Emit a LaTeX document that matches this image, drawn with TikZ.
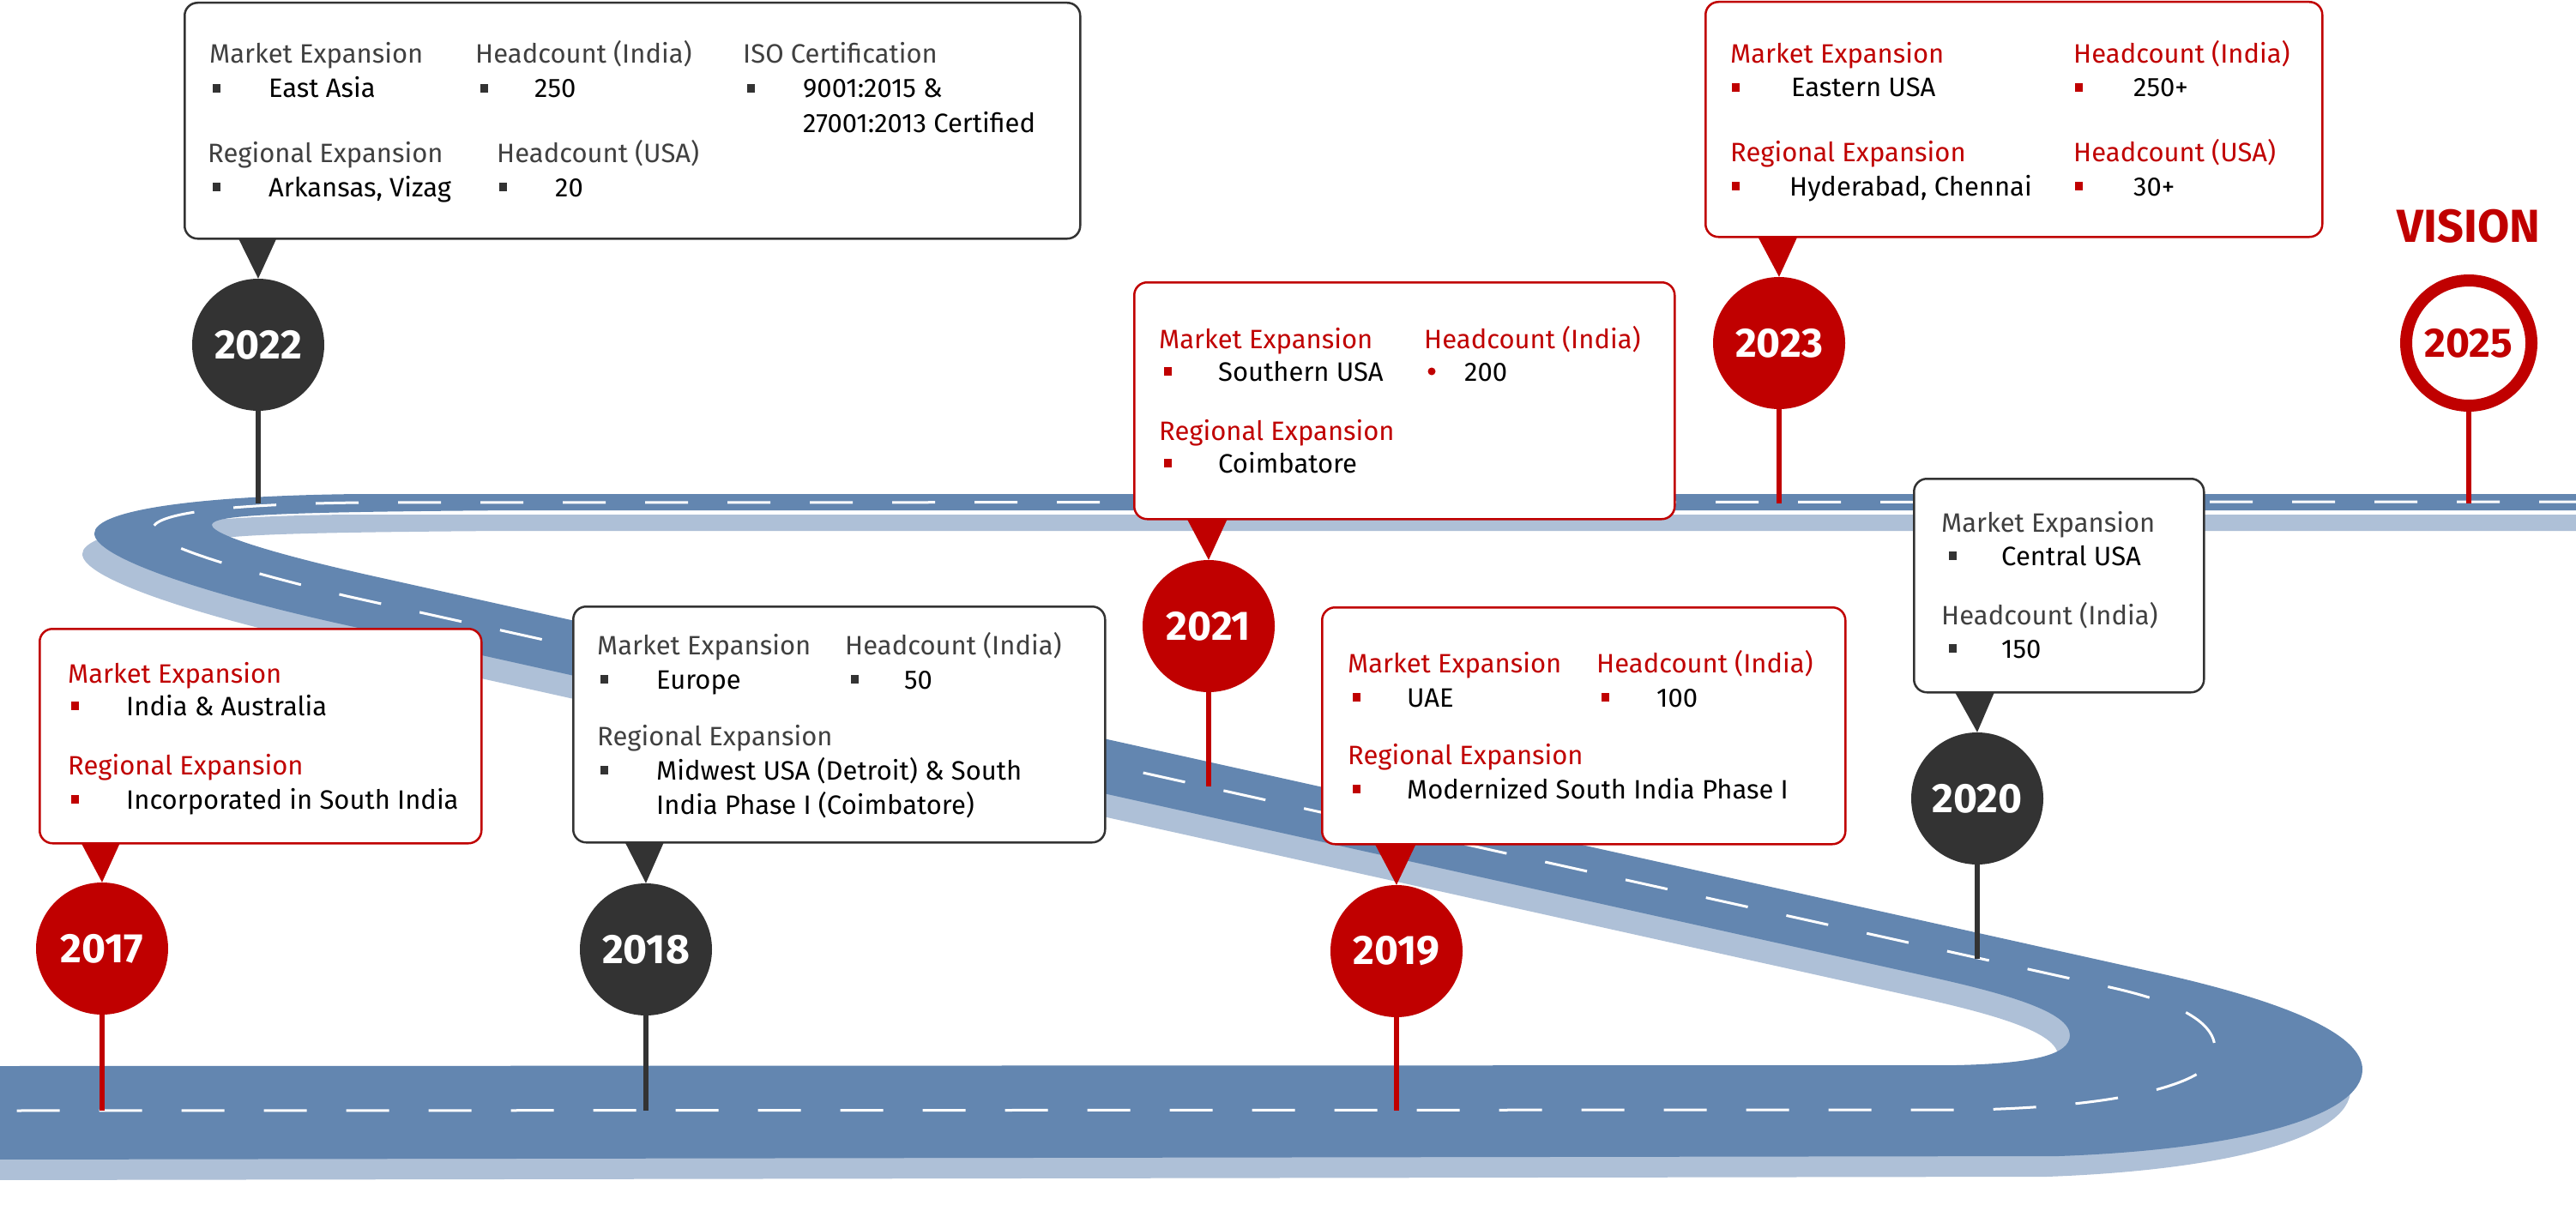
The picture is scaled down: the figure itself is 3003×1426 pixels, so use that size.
\documentclass[tikz,border=0pt]{standalone}
\usepackage{fontspec}
\setmainfont{Fira Sans}
\definecolor{myred}{RGB}{192,0,0}
\definecolor{mydark}{RGB}{51,51,51}
\definecolor{mygray}{RGB}{64,64,64}
\definecolor{roadblue}{RGB}{99,134,176}
\definecolor{roadlight}{RGB}{174,192,215}
\begin{document}
\begin{tikzpicture}[x=1pt,y=-1pt,
  txt/.style={anchor=base west,inner sep=0pt,font=\fontsize{31}{37}\selectfont},
  hdr/.style={txt,text=myred},
  hdd/.style={txt,text=mygray},
  itm/.style={txt,text=black},
  br/.style={rectangle,fill=myred,minimum width=9pt,minimum height=10pt,inner sep=0pt},
  bd/.style={rectangle,fill=mydark,minimum width=9pt,minimum height=10pt,inner sep=0pt},
  bdot/.style={circle,fill=myred,minimum size=9pt,inner sep=0pt},
  boxbase/.style={rectangle,rounded corners=15pt,line width=2.5pt,fill=white,anchor=north west,inner sep=0pt},
  boxr/.style={boxbase,draw=myred},
  boxd/.style={boxbase,draw=mydark},
  yearr/.style={circle,minimum size=154pt,inner sep=0pt,fill=myred,text=white,font=\bfseries\fontsize{48}{52}\selectfont},
  yeard/.style={yearr,fill=mydark},
  stemr/.style={draw=myred,line width=5.5pt},
  stemd/.style={draw=mydark,line width=5.5pt}]
\useasboundingbox (0,0) rectangle (3003,1426);
\clip (0,0) rectangle (3003,1426);
\fill[white] (0,0) rectangle (3003,1426);

% road (shadow then surface)
\foreach \dx/\dy/\col in {-14/24/roadlight,0/0/roadblue}{
\fill[\col,shift={(\dx,\dy)}] (3040,576) -- (420,576) .. controls (220,578) and (110,596) .. (110,622)
  .. controls (110,650) and (240,693) .. (404,729) -- (2250,1139)
  .. controls (2340,1159) and (2413,1180) .. (2413,1207)
  .. controls (2413,1230) and (2370,1240) .. (2280,1242) -- (-10,1243) -- (-10,1352) -- (2400,1348)
  .. controls (2620,1340) and (2754,1300) .. (2754,1247)
  .. controls (2754,1215) and (2700,1176) .. (2518,1135) -- (450,675)
  .. controls (340,651) and (247,625) .. (247,612)
  .. controls (247,600) and (330,597) .. (600,595) -- (3040,595) -- cycle;
}
\draw[white,line width=3pt,dash pattern=on 50pt off 46pt] (3010,585) -- (420,586)
  .. controls (250,588) and (178,600) .. (178,617)
  .. controls (178,635) and (280,665) .. (404,695) -- (2450,1149)
  .. controls (2560,1172) and (2585,1200) .. (2582,1228)
  .. controls (2578,1262) and (2480,1290) .. (2300,1294) -- (-10,1295);

% stem end points on the road
\coordinate (s17) at (119,1295);
\coordinate (s18) at (753,1295);
\coordinate (s19) at (1628,1295);
\coordinate (s20) at (2305,1118);
\coordinate (s21) at (1409,917);
\coordinate (s22) at (301,587);
\coordinate (s23) at (2074,587);
\coordinate (s25) at (2878,587);

% year circles
\node[yearr] (c17) at (119,1106) {2017};
\node[yeard] (c18) at (753,1107) {2018};
\node[yearr] (c19) at (1628,1109) {2019};
\node[yeard] (c20) at (2305,931) {2020};
\node[yearr] (c21) at (1409,730) {2021};
\node[yeard] (c22) at (301,402) {2022};
\node[yearr] (c23) at (2074,400) {2023};
\node[circle,draw=myred,line width=14pt,fill=white,minimum size=146pt,inner sep=0pt,text=myred,font=\bfseries\fontsize{48}{52}\selectfont] (c25) at (2878,400) {2025};
\node[anchor=base,inner sep=0pt,text=myred,font=\bfseries\fontsize{54}{60}\selectfont] (vision) at (2878,282) {VISION};

% stems
\draw[stemr] (c17.south) -- (s17);
\draw[stemd] (c18.south) -- (s18);
\draw[stemr] (c19.south) -- (s19);
\draw[stemd] (c20.south) -- (s20);
\draw[stemr] (c21.south) -- (s21);
\draw[stemd] (c22.south) -- (s22);
\draw[stemr] (c23.south) -- (s23);
\draw[stemr] (c25.south) -- (s25);

% pointers
\fill[mydark] (274,270) -- (326,270) -- (c22.north) -- cycle;
\fill[myred] (2045,268) -- (2099,268) -- (c23.north) -- cycle;
\fill[myred] (1380,598) -- (1434,598) -- (c21.north) -- cycle;
\fill[myred] (91,976) -- (143,976) -- (c17.north) -- cycle;
\fill[mydark] (725,975) -- (777,975) -- (c18.north) -- cycle;
\fill[myred] (1599,977) -- (1654,977) -- (c19.north) -- cycle;
\fill[mydark] (2275,800) -- (2328,800) -- (c20.north) -- cycle;

% boxes
\node[boxd,minimum width=1044pt,minimum height=275pt] (b22) at (214,2) {};
\node[boxr,minimum width=719pt,minimum height=274pt] (b23) at (1987,1) {};
\node[boxr,minimum width=630pt,minimum height=276pt] (b21) at (1321,328) {};
\node[boxr,minimum width=515pt,minimum height=250pt] (b17) at (45,732) {};
\node[boxd,minimum width=620pt,minimum height=275pt] (b18) at (667,706) {};
\node[boxr,minimum width=610pt,minimum height=276pt] (b19) at (1540,707) {};
\node[boxd,minimum width=338pt,minimum height=249pt] (b20) at (2230,557) {};

% 2022 box text
\node[hdd] (a1) at (244,74) {Market Expansion};
\node[bd] (a2) at (252,103) {};
\node[itm] (a3) at (313,114) {East Asia};
\node[hdd] (a4) at (554,74) {Headcount (India)};
\node[bd] (a5) at (564,103) {};
\node[itm] (a6) at (623,114) {250};
\node[hdd] (a7) at (866,74) {ISO Certification};
\node[bd] (a8) at (875,103) {};
\node[itm] (a9) at (936,114) {9001:2015 \&};
\node[itm] (a10) at (936,154) {27001:2013 Certified};
\node[hdd] (a11) at (242,189) {Regional Expansion};
\node[bd] (a12) at (252,218) {};
\node[itm] (a13) at (313,229) {Arkansas, Vizag};
\node[hdd] (a14) at (579,189) {Headcount (USA)};
\node[bd] (a15) at (586,218) {};
\node[itm] (a16) at (647,229) {20};

% 2023 box text
\node[hdr] (d1) at (2017,74) {Market Expansion};
\node[br] (d2) at (2023,102) {};
\node[itm] (d3) at (2088,113) {Eastern USA};
\node[hdr] (d4) at (2417,74) {Headcount (India)};
\node[br] (d5) at (2423,102) {};
\node[itm] (d6) at (2487,113) {250+};
\node[hdr] (d7) at (2017,188) {Regional Expansion};
\node[br] (d8) at (2023,217) {};
\node[itm] (d9) at (2086,228) {Hyderabad, Chennai};
\node[hdr] (d10) at (2417,188) {Headcount (USA)};
\node[br] (d11) at (2423,217) {};
\node[itm] (d12) at (2487,228) {30+};

% 2021 box text
\node[hdr] (e1) at (1351,406) {Market Expansion};
\node[br] (e2) at (1361,433) {};
\node[itm] (e3) at (1420,444) {Southern USA};
\node[hdr] (e4) at (1660,406) {Headcount (India)};
\node[bdot] (e5) at (1669,433) {};
\node[itm] (e6) at (1707,444) {200};
\node[hdr] (e7) at (1351,513) {Regional Expansion};
\node[br] (e8) at (1361,540) {};
\node[itm] (e9) at (1420,551) {Coimbatore};

% 2017 box text
\node[hdr] (f1) at (79,796) {Market Expansion};
\node[br] (f2) at (87,823) {};
\node[itm] (f3) at (147,834) {India \& Australia};
\node[hdr] (f4) at (79,903) {Regional Expansion};
\node[br] (f5) at (87,932) {};
\node[itm] (f6) at (147,943) {Incorporated in South India};

% 2018 box text
\node[hdd] (g1) at (696,763) {Market Expansion};
\node[bd] (g2) at (704,792) {};
\node[itm] (g3) at (765,803) {Europe};
\node[hdd] (g4) at (985,763) {Headcount (India)};
\node[bd] (g5) at (996,792) {};
\node[itm] (g6) at (1054,803) {50};
\node[hdd] (g7) at (696,869) {Regional Expansion};
\node[bd] (g8) at (704,898) {};
\node[itm] (g9) at (765,909) {Midwest USA (Detroit) \& South};
\node[itm] (g10) at (765,949) {India Phase I (Coimbatore)};

% 2019 box text
\node[hdr] (h1) at (1571,784) {Market Expansion};
\node[br] (h2) at (1581,813) {};
\node[itm] (h3) at (1640,824) {UAE};
\node[hdr] (h4) at (1861,784) {Headcount (India)};
\node[br] (h5) at (1871,813) {};
\node[itm] (h6) at (1931,824) {100};
\node[hdr] (h7) at (1571,891) {Regional Expansion};
\node[br] (h8) at (1581,920) {};
\node[itm] (h9) at (1640,931) {Modernized South India Phase I};

% 2020 box text
\node[hdd] (k1) at (2263,620) {Market Expansion};
\node[bd] (k2) at (2276,648) {};
\node[itm] (k3) at (2333,659) {Central USA};
\node[hdd] (k4) at (2263,728) {Headcount (India)};
\node[bd] (k5) at (2276,756) {};
\node[itm] (k6) at (2333,767) {150};
\end{tikzpicture}
\end{document}
